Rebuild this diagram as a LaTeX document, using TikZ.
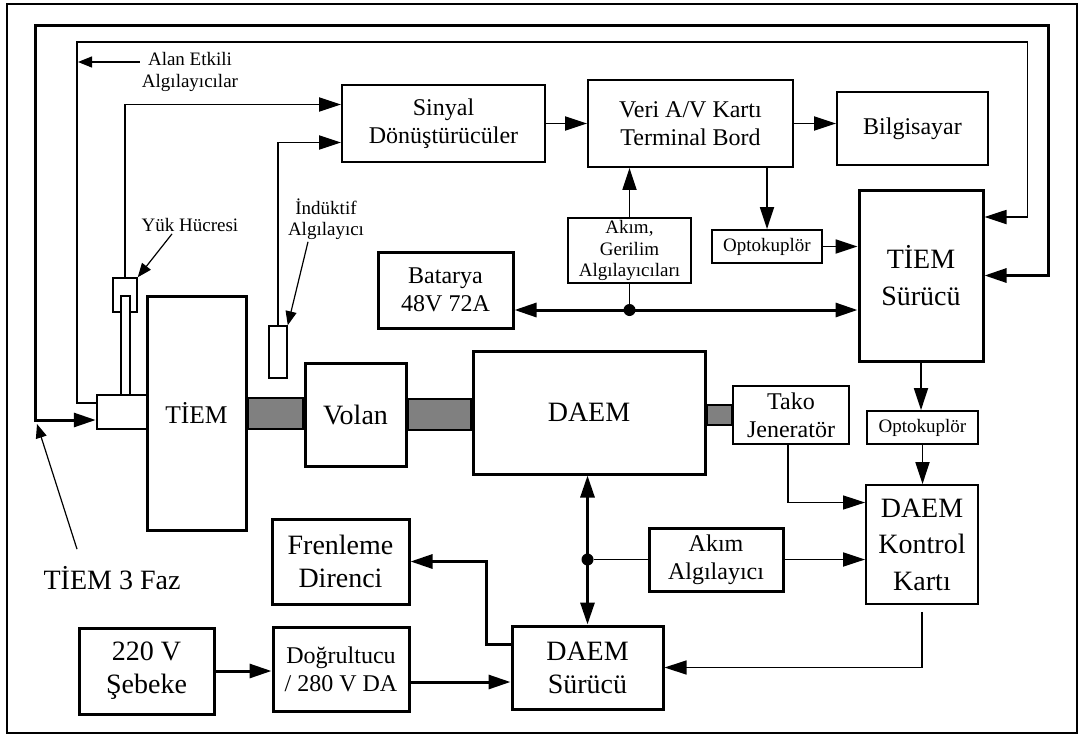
\documentclass[tikz,border=0pt]{standalone}
\usepackage{fontspec}
\setmainfont{Liberation Serif}
\usetikzlibrary{arrows.meta,calc,backgrounds}
\newcommand{\fbig}{\fontsize{28}{33}\selectfont}
\newcommand{\fbigx}{\fontsize{28}{36.5}\selectfont}
\newcommand{\fmot}{\fontsize{25.5}{30}\selectfont}
\newcommand{\fmid}{\fontsize{24}{28}\selectfont}
\newcommand{\fsml}{\fontsize{19}{21.5}\selectfont}

\begin{document}
\begin{tikzpicture}[x=1pt, y=-1pt, >={Triangle[length=22pt,width=14pt]},
    heavy/.style={draw, line width=3pt, align=center, inner sep=0pt, font=\fbig},
    heavymid/.style={heavy, font=\fmid},
    light/.style={draw, line width=1.8pt, align=center, inner sep=0pt, font=\fmid},
    lightsml/.style={light, font=\fsml},
    part/.style={draw, line width=1.5pt, inner sep=0pt},
    shaft/.style={draw, line width=2.5pt, fill=gray},
    lbl/.style={align=center, inner sep=2pt, font=\fsml},
    bus/.style={line width=3pt},
    sig/.style={line width=1.8pt},
    hair/.style={line width=1.3pt},
    pointer/.style={line width=1.2pt, -{Triangle[length=14pt,width=11pt]}},
    dot/.style={circle, fill, inner sep=0pt, minimum size=12pt}
]
\useasboundingbox (0,0) rectangle (1081,736);
\draw[line width=2.5pt] (7,4) rectangle (1077,733);

\node[light, minimum width=203pt, minimum height=77pt] (sinyal) at (443.5,123.5) {Sinyal\\Dönüştürücüler};
\node[light, minimum width=205pt, minimum height=87pt] (veri) at (690.5,123.5) {Veri A/V Kartı\\Terminal Bord};
\node[light, minimum width=151pt, minimum height=73pt] (bilgi) at (912.5,128.5) {Bilgisayar};
\node[lightsml, minimum width=123pt, minimum height=65pt] (akger) at (629.5,250.5) {Akım,\\Gerilim\\Algılayıcıları};
\node[heavymid, minimum width=135pt, minimum height=76pt] (batarya) at (445.5,290) {Batarya\\48V 72A};
\node[lightsml, minimum width=110pt, minimum height=33pt] (optoa) at (767,246.5) {Optokuplör};
\node[heavy, minimum width=124pt, minimum height=171pt, font=\fbigx] (tsurucu) at (921,275.5) {TİEM\\Sürücü};

\node[heavy, minimum width=99pt, minimum height=234pt, font=\fmot] (tiem) at (196.5,413) {TİEM};
\node[part, line width=2.5pt, minimum width=50pt, minimum height=34pt] (enc) at (122,412) {};
\node[part, minimum width=24pt, minimum height=34pt] (yuk) at (125,295) {};
\draw[part, fill=white] (121,296) rectangle (130,395);
\node[part, minimum width=18pt, minimum height=52pt] (induk) at (278,352) {};
\node[heavy, minimum width=101pt, minimum height=103pt] (volan) at (355.5,414.5) {Volan};
\node[heavy, minimum width=232pt, minimum height=123pt] (daem) at (589,412.5) {DAEM};
\node[light, line width=1.5pt, minimum width=116pt, minimum height=58pt] (tako) at (791,415) {Tako\\Jeneratör};
\node[lightsml, minimum width=111pt, minimum height=33pt] (optob) at (922.5,427.5) {Optokuplör};
\node[light, minimum width=112pt, minimum height=119pt, font=\fbigx] (kontrol) at (922,544.5) {DAEM\\Kontrol\\Kartı};
\node[heavymid, minimum width=134pt, minimum height=63pt] (akim) at (716,559.5) {Akım\\Algılayıcı};
\node[heavy, minimum width=151pt, minimum height=83pt] (dsurucu) at (587.5,667.5) {DAEM\\Sürücü};
\node[heavy, minimum width=137pt, minimum height=85pt] (fren) at (340.5,561.5) {Frenleme\\Direnci};
\node[heavy, minimum width=135pt, minimum height=86pt] (sebeke) at (146.5,671) {220 V\\Şebeke};
\node[heavymid, minimum width=136pt, minimum height=84pt] (dogru) at (341,669) {Doğrultucu\\/ 280 V DA};

\begin{scope}[on background layer]
\draw[shaft] (tiem.east |- 0,398) rectangle (volan.west |- 0,429);
\draw[shaft] (volan.east |- 0,399) rectangle (daem.west |- 0,430);
\draw[shaft] (daem.east |- 0,405) rectangle (tako.west |- 0,425);
\end{scope}

\node[lbl] (alanlbl) at (190,72) {Alan Etkili\\Algılayıcılar};
\node[lbl] (yuklbl) at (190,225) {Yük Hücresi};
\node[lbl] (induklbl) at (326,219) {İndüktif\\Algılayıcı};
\node[lbl, font=\fbig] (fazlbl) at (112,578) {TİEM 3 Faz};

\coordinate (alanpt) at (78,62);
\coordinate (fazpt) at (37,424);
\coordinate (tsin) at ($(tsurucu.east)+(0,-58.5)$);

\draw[bus, <->] (tsurucu.east) -- ++(64,0) |- (35,25) |- ($(enc.west)+(0,8)$);
\draw[sig, ->] ($(enc.west)+(0,-9)$) -| (77,42) -| ($(tsin)+(43,0)$) -- (tsin);
\draw[pointer] (alanlbl.west |- alanpt) -- (alanpt);
\draw[pointer] ($(yuklbl.south)+(-18,0)$) -- (yuk.north east);
\draw[pointer] ($(induklbl.south)+(-18,0)$) -- (induk.north east);
\draw[pointer] ($(fazlbl.north)+(-35,-15)$) -- (fazpt);

\draw[sig, ->] (yuk.north) |- ($(sinyal.west)+(0,-19)$);
\draw[sig, ->] (induk.north) |- ($(sinyal.west)+(0,19)$);
\draw[sig, ->] (sinyal.east) -- (veri.west |- sinyal.east);
\draw[sig, ->] (veri.east) -- (bilgi.west |- veri.east);
\draw[sig, ->] (akger.north) -- (akger.north |- veri.south);
\draw[sig, ->] (veri.south -| optoa.north) -- (optoa.north);
\draw[sig, ->] (optoa.east) -- (tsurucu.west |- optoa.east);

\node[dot] (busdot) at (629.5,310) {};
\draw[bus, <->] (batarya.east |- busdot) -- (tsurucu.west |- busdot);
\draw[sig] (busdot) -- (akger.south);

\draw[sig, ->] (tsurucu.south) -- (tsurucu.south |- optob.north);
\draw[sig, ->] (optob.south) -- (optob.south |- kontrol.north);
\draw[hair, ->] ($(tako.south)+(-3,0)$) |- ($(kontrol.west)+(0,-42)$);
\draw[sig, ->] (akim.east) -- (kontrol.west |- akim.east);

\node[dot] (dotb) at (dsurucu.north |- akim.west) {};
\draw[bus, <->] (dsurucu.north |- daem.south) -- (dsurucu.north);
\draw[sig] (dotb) -- (akim.west);
\draw[hair, ->] ($(kontrol.south)+(0,7)$) |- (dsurucu.east);

\draw[bus, ->] ($(dsurucu.west)+(0,-23)$) -- ++(-24,0) |- (fren.east);
\draw[bus, ->] (sebeke.east) -- (dogru.west |- sebeke.east);
\draw[bus, ->] ($(dogru.east)+(0,13)$) -- ($(dsurucu.west)+(0,14.5)$);
\end{tikzpicture}
\end{document}
